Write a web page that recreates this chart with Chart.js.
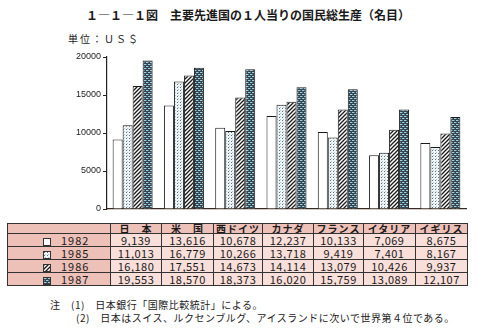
<!DOCTYPE html>
<html>
<head>
<meta charset="utf-8">
<script src="https://cdn.jsdelivr.net/npm/chart.js@4/dist/chart.umd.min.js"></script>
<style>
  html, body { margin: 0; padding: 0; background: #fff; }
  body { width: 478px; height: 334px; position: relative; overflow: hidden;
         font-family: "Noto Sans CJK JP", "Noto Sans", sans-serif; color: #1a1a1a; }
  #chart { position: absolute; left: 0; top: 0; }
  .title { position: absolute; left: 86px; top: 6px; font-size: 12px; font-weight: bold;
           white-space: nowrap; line-height: 18px; }
  .unit { position: absolute; left: 68px; top: 31px; font-size: 10px; letter-spacing: 2px;
          white-space: nowrap; line-height: 16px; }
  table { position: absolute; left: 7px; top: 223px; border-collapse: collapse;
          table-layout: fixed; border: 1.5px solid #222; }
  td { border: 1px solid #333; padding: 0; font-size: 11px; text-align: center;
       background: #f8dfda; white-space: nowrap; overflow: hidden; letter-spacing: 0.5px; }
  tr.head td { height: 9px; line-height: 9px; font-size: 10px; font-weight: bold; background: #edc0b8;
               letter-spacing: 1px; }
  tr.row td { height: 12px; line-height: 12px; }
  td.lab { background: #edc0b8; text-align: left; padding-left: 35px; letter-spacing: 1px; }
  td.lab span.sw { display: inline-block; width: 8px; height: 8px; border: 1px solid #333;
                   vertical-align: -1px; margin-right: 10px; box-sizing: border-box; }
  .note { position: absolute; font-size: 10px; white-space: nowrap; line-height: 14px; letter-spacing: 0.5px; }
</style>
</head>
<body>
<div class="title">１―１―１図　主要先進国の１人当りの国民総生産（名目）</div>
<div class="unit">単位：ＵＳ＄</div>
<canvas id="chart" width="478" height="220"></canvas>
<table id="tbl"></table>
<div class="note" style="left:50px; top:298px;">注　(1)　日本銀行「国際比較統計」による。</div>
<div class="note" style="left:76px; top:311px;">(2)　日本はスイス、ルクセンブルグ、アイスランドに次いで世界第４位である。</div>

<script>
// Countries, table headings and years
const categories = ['日本', '米国', '西ドイツ', 'カナダ', 'フランス', 'イタリア', 'イギリス'];
const headerLabels = ['日　本', '米　国', '西ドイツ', 'カナダ', 'フランス', 'イタリア', 'イギリス'];
const years = ['1982', '1985', '1986', '1987'];

// GNP per capita (US$)
const v1982 = [9139, 13616, 10678, 12237, 10133, 7069, 8675];
const v1985 = [11013, 16779, 10266, 13718, 9419, 7401, 8167];
const v1986 = [16180, 17551, 14673, 14114, 13079, 10426, 9937];
const v1987 = [19553, 18570, 18373, 16020, 15759, 13089, 12107];

// Y axis ticks
const yTicks = [0, 5000, 10000, 15000, 20000];

// Fill patterns for each year
function makeTile(kind) {
  const c = document.createElement('canvas');
  const ctx = c.getContext('2d');
  if (kind === 'plain') {
    c.width = c.height = 4;
    ctx.fillStyle = '#ffffff'; ctx.fillRect(0, 0, 4, 4);
  } else if (kind === 'dots') {
    c.width = c.height = 3;
    ctx.fillStyle = '#eef5f8'; ctx.fillRect(0, 0, 3, 3);
    ctx.fillStyle = '#6a6a6a'; ctx.fillRect(0, 0, 1, 1);
    ctx.fillStyle = '#a9c8d6'; ctx.fillRect(1, 2, 1, 1);
  } else if (kind === 'hatch') {
    c.width = c.height = 4;
    ctx.fillStyle = '#ffffff'; ctx.fillRect(0, 0, 4, 4);
    ctx.strokeStyle = '#1a1a1a'; ctx.lineWidth = 1.3;
    ctx.beginPath();
    ctx.moveTo(-1, 5); ctx.lineTo(5, -1);
    ctx.moveTo(-1, 1); ctx.lineTo(1, -1);
    ctx.moveTo(3, 5); ctx.lineTo(5, 3);
    ctx.stroke();
  } else {
    c.width = c.height = 4;
    ctx.fillStyle = '#34454f'; ctx.fillRect(0, 0, 4, 4);
    ctx.fillStyle = '#9fd0e2';
    ctx.fillRect(0, 0, 1, 1); ctx.fillRect(2, 2, 1, 1);
    ctx.fillRect(1, 0, 1, 1); ctx.fillRect(3, 2, 1, 1);
    ctx.fillStyle = '#5f8494';
    ctx.fillRect(2, 0, 1, 1); ctx.fillRect(0, 2, 1, 1);
  }
  return c;
}
const tileKinds = ['plain', 'dots', 'hatch', 'check'];
const tiles = tileKinds.map(makeTile);
const ctx = document.getElementById('chart').getContext('2d');
const patterns = tiles.map(t => ctx.createPattern(t, 'repeat'));

const seriesValues = [v1982, v1985, v1986, v1987];

new Chart(ctx, {
  type: 'bar',
  data: {
    labels: categories,
    datasets: years.map((y, i) => ({
      label: y,
      data: seriesValues[i],
      backgroundColor: patterns[i],
      borderColor: '#1a1a1a',
      borderWidth: 1,
      borderSkipped: 'bottom',
      categoryPercentage: 0.78,
      barPercentage: 1.0
    }))
  },
  options: {
    responsive: false,
    animation: false,
    devicePixelRatio: 1,
    layout: { padding: { top: 57, right: 12, bottom: 11, left: 0 } },
    plugins: { legend: { display: false }, tooltip: { enabled: false }, title: { display: false } },
    scales: {
      x: {
        grid: { display: false },
        ticks: { display: false },
        border: { display: true, color: '#3a2a20', width: 1.2 },
        afterFit: s => { s.height = 0; }
      },
      y: {
        min: 0, max: 20000,
        afterBuildTicks: s => { s.ticks = yTicks.map(v => ({ value: v })); },
        ticks: {
          color: '#1a1a1a',
          padding: 2,
          font: { family: 'Liberation Sans', size: 9 },
          callback: v => String(v)
        },
        grid: { drawOnChartArea: false, drawTicks: true, tickLength: 4, color: '#222' },
        border: { display: true, color: '#222', width: 1.2 },
        afterFit: s => { s.width = 107; }
      }
    }
  }
});

// Data table below the chart
const colWidths = [103, 51, 52, 49, 51, 50, 52, 52];
const tbl = document.getElementById('tbl');
const cg = document.createElement('colgroup');
colWidths.forEach(w => { const c = document.createElement('col'); c.style.width = w + 'px'; cg.appendChild(c); });
tbl.appendChild(cg);
tbl.style.width = colWidths.reduce((a, b) => a + b, 0) + 'px';

const head = document.createElement('tr');
head.className = 'head';
head.appendChild(document.createElement('td'));
headerLabels.forEach(h => { const td = document.createElement('td'); td.textContent = h; head.appendChild(td); });
tbl.appendChild(head);

years.forEach((y, i) => {
  const tr = document.createElement('tr');
  tr.className = 'row';
  const lab = document.createElement('td');
  lab.className = 'lab';
  const sw = document.createElement('span');
  sw.className = 'sw';
  sw.style.backgroundImage = 'url(' + tiles[i].toDataURL() + ')';
  lab.appendChild(sw);
  lab.appendChild(document.createTextNode(y));
  tr.appendChild(lab);
  seriesValues[i].forEach(v => {
    const td = document.createElement('td');
    td.textContent = v.toLocaleString('en-US');
    tr.appendChild(td);
  });
  tbl.appendChild(tr);
});
</script>
</body>
</html>
